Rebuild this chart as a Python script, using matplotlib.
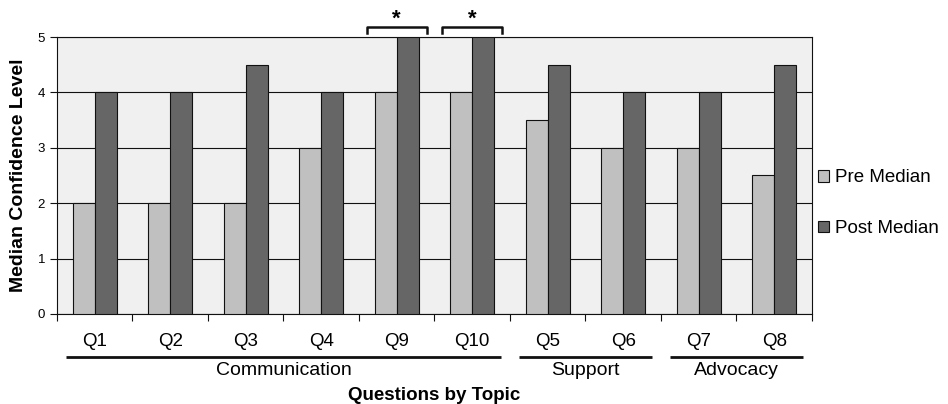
import numpy as np
import matplotlib
matplotlib.use("Agg")
import matplotlib.pyplot as plt

plt.rcParams['font.family'] = ['Liberation Sans', 'DejaVu Sans']

questions = ['Q1', 'Q2', 'Q3', 'Q4', 'Q9', 'Q10', 'Q5', 'Q6', 'Q7', 'Q8']
pre_median = [2, 2, 2, 3, 4, 4, 3.5, 3, 3, 2.5]
post_median = [4, 4, 4.5, 4, 5, 5, 4.5, 4, 4, 4.5]
topics = ['Communication', 'Support', 'Advocacy']
topic_spans = [(0, 5), (6, 7), (8, 9)]   # first and last question index
significant = [4, 5]                      # Q9, Q10

fig = plt.figure(figsize=(9.48, 4.04), dpi=100)
ax = fig.add_axes([0.0601, 0.2228, 0.7964, 0.6856])
ax.set_facecolor('#f0f0f0')

x = np.arange(len(questions))
w = 0.29
ax.bar(x - w / 2, pre_median, w, color='#c0c0c0', edgecolor='#111111', linewidth=0.8,
       label='Pre Median', zorder=3)
ax.bar(x + w / 2, post_median, w, color='#666666', edgecolor='#111111', linewidth=0.8,
       label='Post Median', zorder=3)

ax.set_xlim(-0.5, len(questions) - 0.5)
ax.set_ylim(0, 5)
ax.set_yticks(range(6))
ax.yaxis.grid(True, color='#111111', linewidth=0.8, zorder=1)
ax.tick_params(axis='y', labelsize=9.5, length=5, width=0.8, color='#111111')

# ticks at group borders, labels at centres
ax.set_xticks(np.arange(-0.5, len(questions) + 0.5, 1))
ax.set_xticklabels([])
ax.tick_params(axis='x', which='major', length=5, width=0.8, direction='out', color='#111111')
ax.set_xticks(x, minor=True)
ax.set_xticklabels(questions, minor=True, fontsize=13.5)
ax.tick_params(axis='x', which='minor', length=0, pad=14)

for s in ax.spines.values():
    s.set_linewidth(0.8)
    s.set_color('#111111')

ax.set_ylabel('Median Confidence Level', fontsize=14, fontweight='bold', labelpad=8)

# topic lines and labels under the question labels
trans = ax.get_xaxis_transform()
for name, (a, b) in zip(topics, topic_spans):
    ax.plot([a - 0.38, b + 0.38], [-0.155, -0.155], transform=trans, color='#111111',
            linewidth=2, clip_on=False, solid_capstyle='butt')
    ax.text((a + b) / 2, -0.205, name, transform=trans, ha='center', va='center', fontsize=14)

ax.text(4.5, -0.295, 'Questions by Topic', transform=trans, ha='center', va='center',
        fontsize=13.5, fontweight='bold')

# significance brackets
for i in significant:
    ax.plot([i - 0.4, i - 0.4, i + 0.4, i + 0.4], [1.015, 1.035, 1.035, 1.015],
            transform=trans, color='#111111', linewidth=1.8, clip_on=False)
    ax.text(i, 1.025, '*', transform=trans, ha='center', va='bottom', fontsize=16,
            fontweight='bold')

leg = ax.legend(loc='center left', bbox_to_anchor=(1.0, 0.4), frameon=False,
                fontsize=13.5, handlelength=0.6, handleheight=0.6, handletextpad=0.35,
                labelspacing=1.8, borderaxespad=0.0, borderpad=0.3)

fig.savefig('out.png', dpi=100)
